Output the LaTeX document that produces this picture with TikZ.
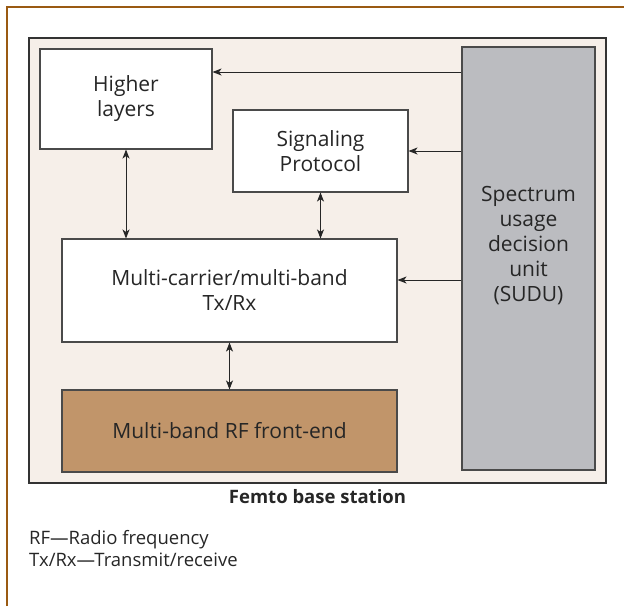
\documentclass[tikz,border=0pt]{standalone}
\usepackage{fontspec}
\setmainfont{Open Sans}
\usetikzlibrary{arrows.meta}
\definecolor{framebrown}{HTML}{9A5A12}
\definecolor{panelbg}{HTML}{F6EFE9}
\definecolor{rfbrown}{HTML}{C1956A}
\definecolor{sudugray}{HTML}{BBBCC0}
\definecolor{linegray}{HTML}{4A4A4A}
\tikzset{
  blk/.style={draw=linegray, line width=1.1pt, fill=white, inner sep=0pt, align=center,
    font=\fontsize{21}{25}\selectfont, text=black!85},
  blktext/.style={inner sep=0pt, align=center, font=\fontsize{21}{25}\selectfont, text=black!85},
  conn/.style={line width=0.9pt, draw=black!85, -{Stealth[length=9pt,width=7pt,inset=2.5pt]}},
  bidir/.style={line width=0.9pt, draw=black!85, {Stealth[length=9pt,width=7pt,inset=2.5pt]}-{Stealth[length=9pt,width=7pt,inset=2.5pt]}}
}
\begin{document}
\begin{tikzpicture}[x=1pt,y=-1pt]
  \useasboundingbox (0,0) rectangle (624,606);
  % page frame (top and left rules)
  \draw[framebrown, line width=2.2pt] (7,606) -- (7,7) -- (624,7);
  % base station panel
  \node[draw=black!80, line width=1.1pt, fill=panelbg, minimum width=577pt, minimum height=445pt, inner sep=0pt]
    (panel) at (317.5,260.5) {};
  % blocks
  \node[blk, minimum width=172pt, minimum height=100pt] (hl) at (126,99) {Higher\\layers};
  \node[blk, minimum width=175pt, minimum height=82pt] (sp) at (320.5,151) {Signaling\\Protocol};
  \node[blk, minimum width=335pt, minimum height=103pt] (mc) at (229.5,290.5) {Multi-carrier/multi-band\\Tx/Rx};
  \node[blk, fill=rfbrown, minimum width=335pt, minimum height=82pt] (rf) at (229.5,431) {Multi-band RF front-end};
  \node[blk, fill=sudugray, minimum width=133pt, minimum height=423pt] (sudu) at (528.5,258.5) {};
  \node[blktext] (sudutext) at (528.5,246) {Spectrum\\usage\\decision\\unit\\(SUDU)};
  % control paths from the SUDU
  \draw[conn] (sudu.west |- 0,72) -- (hl.east |- 0,72);
  \draw[conn] (sudu.west |- 0,151) -- (sp.east);
  \draw[conn] (sudu.west |- 0,280) -- (mc.east |- 0,280);
  % data paths between layers
  \draw[bidir] (hl.south) -- (hl.south |- mc.north);
  \draw[bidir] (sp.south) -- (sp.south |- mc.north);
  \draw[bidir] (mc.south) -- (rf.north);
  % captions
  \node[font=\fontsize{18.5}{22}\selectfont\bfseries, text=black!85] (cap) at (317.5,497) {Femto base station};
  \node[anchor=north west, align=left, inner sep=0pt, font=\fontsize{18.5}{22}\selectfont, text=black!85]
    (legend) at (29,530) {RF—Radio frequency\\Tx/Rx—Transmit/receive};
\end{tikzpicture}
\end{document}
